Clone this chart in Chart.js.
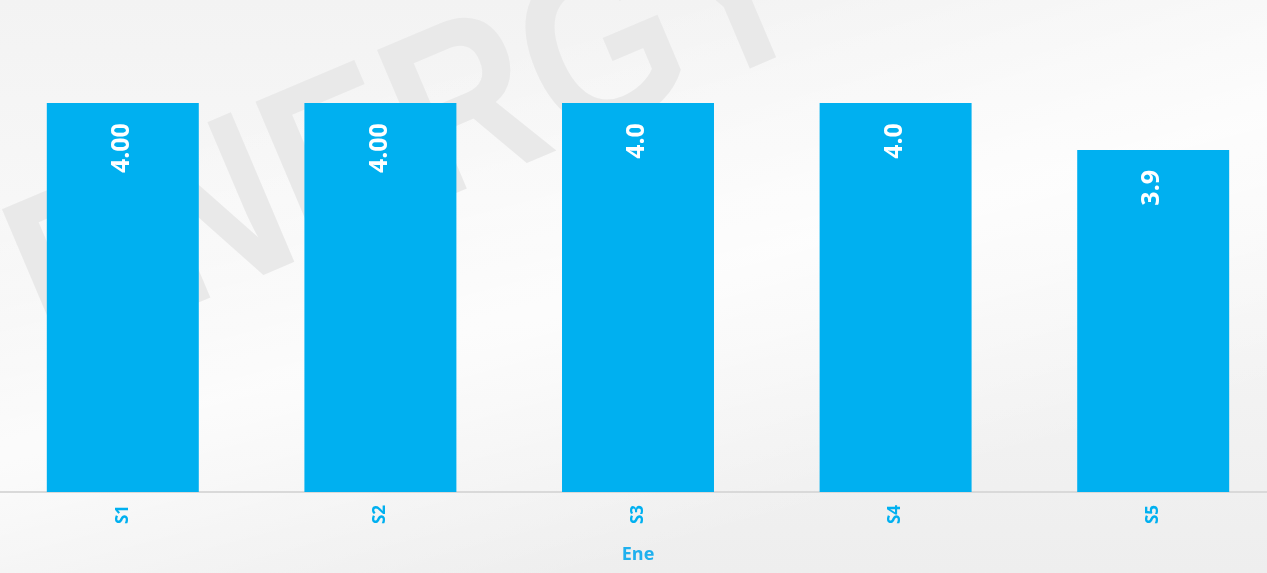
<!DOCTYPE html>
<html>
<head>
<meta charset="utf-8">
<script src="https://cdn.jsdelivr.net/npm/chart.js@4.4.1/dist/chart.umd.min.js"></script>
<style>
  html, body { margin: 0; padding: 0; width: 1267px; height: 573px; overflow: hidden; }
  body {
    position: relative;
    background:
      linear-gradient(165deg, rgba(255,255,255,0) 20%, rgba(255,255,255,0.75) 50%, rgba(255,255,255,0) 80%),
      linear-gradient(180deg, #f3f3f3 0%, #f7f7f7 35%, #f2f2f2 70%, #eeeeee 100%);
  }
  #wm {
    position: absolute; left: -25px; top: 180px;
    font-family: "Liberation Sans", Arial, sans-serif; font-weight: bold;
    font-size: 236px; line-height: 1; color: #e9e9e9; white-space: nowrap;
    transform: rotate(-23deg) scaleX(0.84); transform-origin: 0 0;
  }
  #wrap { position: absolute; left: -6px; top: 0; width: 1288px; height: 573px; }
</style>
</head>
<body>
<div id="wm">ENERGY</div>
<div id="wrap"><canvas id="c"></canvas></div>
<script>
const categories = ["S1", "S2", "S3", "S4", "S5"];
const values = [4.00, 4.00, 4.0, 4.0, 3.9];
const valueLabels = ["4.00", "4.00", "4.0", "4.0", "3.9"];
const axisTitle = "Ene";

const barColor = "#00B0F0";

const dataLabelPlugin = {
  id: "dataLabels",
  afterDatasetsDraw(chart) {
    const ctx = chart.ctx;
    const meta = chart.getDatasetMeta(0);
    ctx.save();
    ctx.fillStyle = "#ffffff";
    ctx.font = "bold 25px 'Open Sans', sans-serif";
    ctx.textAlign = "right";
    ctx.textBaseline = "middle";
    meta.data.forEach((bar, i) => {
      ctx.save();
      ctx.translate(bar.x - 1, bar.y + 20);
      ctx.rotate(-Math.PI / 2);
      ctx.fillText(valueLabels[i], 0, 0);
      ctx.restore();
    });
    ctx.restore();
  }
};

new Chart(document.getElementById("c"), {
  type: "bar",
  data: {
    labels: categories,
    datasets: [{
      data: values,
      backgroundColor: barColor,
      borderWidth: 0,
      categoryPercentage: 1.0,
      barPercentage: 0.59
    }]
  },
  options: {
    responsive: true,
    maintainAspectRatio: false,
    animation: false,
    layout: { padding: 0 },
    plugins: { legend: { display: false }, tooltip: { enabled: false } },
    scales: {
      y: { display: false, min: 3.17, max: 4.22 },
      x: {
        grid: { display: false, drawTicks: false },
        border: { display: true, color: "#d9d9d9", width: 2 },
        ticks: {
          color: "#00B0F0",
          font: { family: "'Open Sans', sans-serif", size: 17, weight: "bold" },
          minRotation: 90, maxRotation: 90,
          padding: 13
        },
        title: {
          display: true, text: axisTitle, color: "#1fb0ee",
          font: { family: "'Open Sans', sans-serif", size: 18, weight: "bold" },
          padding: { top: 0, bottom: 7 }
        },
        afterFit(scale) { scale.height = 81; }
      }
    }
  },
  plugins: [dataLabelPlugin]
});
</script>
</body>
</html>
